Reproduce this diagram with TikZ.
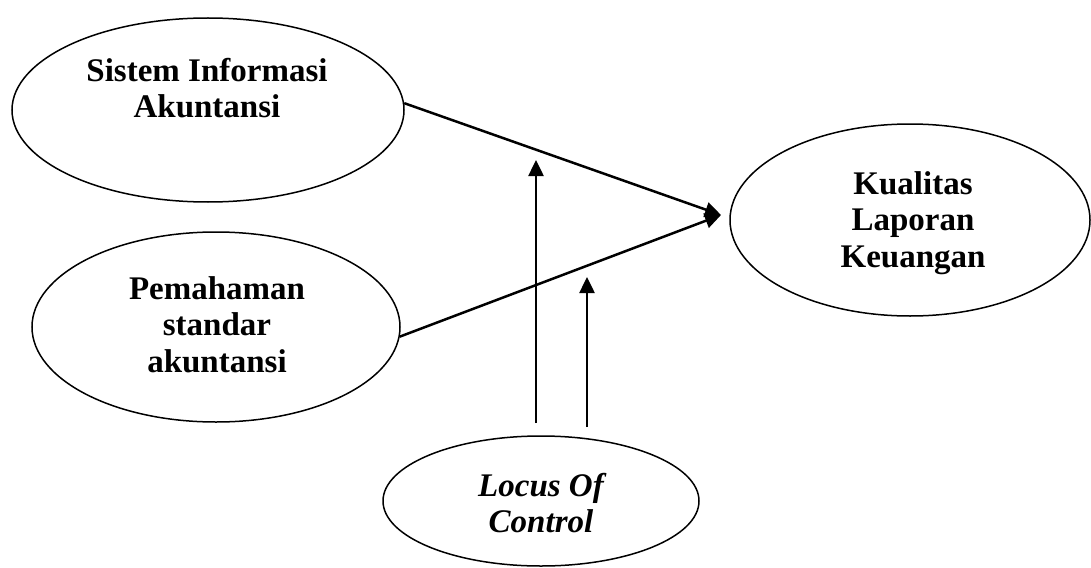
\documentclass[tikz,border=0pt]{standalone}
\usepackage{fontspec}
\setmainfont{Liberation Serif}
\usetikzlibrary{shapes.geometric,arrows.meta}
\begin{document}
\begin{tikzpicture}[x=1pt,y=-1pt,
  oval/.style={ellipse,draw,line width=1.5pt,inner sep=0pt},
  lbl/.style={align=center,font=\fontsize{33}{36.5}\selectfont\bfseries},
  conn/.style={line width=2.5pt,-{Triangle[length=16pt,width=15pt]}}]
\useasboundingbox (0,0) rectangle (1091,567);
% ellipses
\node[oval,minimum width=392pt,minimum height=184pt] (s) at (208,110) {};
\node[oval,minimum width=368pt,minimum height=190pt] (p) at (216,327) {};
\node[oval,minimum width=360pt,minimum height=192pt] (k) at (910,220) {};
\node[oval,minimum width=316pt,minimum height=130pt] (l) at (541,501) {};
% texts
\node[lbl] (st) at (207,88) {Sistem Informasi\\Akuntansi};
\node[lbl] (pt) at (217,324.5) {Pemahaman\\standar\\akuntansi};
\node[lbl] (kt) at (913,223) {Kualitas\\Laporan\\Keuangan};
\node[lbl,font=\fontsize{33}{36.5}\selectfont\bfseries\itshape] (lt) at (541,503) {Locus Of\\Control};
% connectors
\coordinate (t) at (721,215);
\draw[conn] (s.2) -- (t);
\draw[conn] (p.-3) -- (t);
\coordinate (a1) at (536,423);
\coordinate (a1e) at (536,160);
\coordinate (a2) at (587,427);
\coordinate (a2e) at (587,277);
\draw[conn] (a1) -- (a1e);
\draw[conn] (a2) -- (a2e);
\end{tikzpicture}
\end{document}
